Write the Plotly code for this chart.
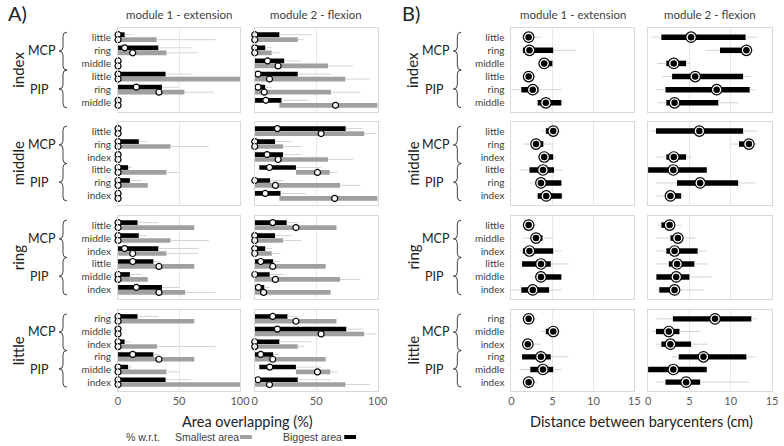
import plotly.graph_objects as go

W, H = 784, 446

# ---------------- labels ----------------
fingers = ["index", "middle", "ring", "little"]
lab_index = ["little", "ring", "middle", "little", "ring", "middle"]
lab_middle = ["little", "ring", "index", "little", "ring", "index"]
lab_ring = ["little", "middle", "index", "little", "middle", "index"]
lab_little = ["ring", "middle", "index", "ring", "middle", "index"]
row_labels = [lab_index, lab_middle, lab_ring, lab_little]
joints = ["MCP", "PIP"]
titles = ["module 1 - extension", "module 2 - flexion"]

# ---------------- Panel A: area overlapping (%) ----------------
# order: index(MCP l,r,m, PIP l,r,m), middle(...), ring(...), little(...)
# module 1 - biggest area (black)
a1_big_lo = [0, 0, 0, 0, 0, 0,  0, 0, 0, 0, 0, 0,  0, 0, 0, 0, 0, 0,  0, 0, 0, 0, 0, 0]
a1_big_hi = [5.4, 33, 0, 39, 36, 0,  0, 17, 0, 8.3, 9.7, 0,  16, 17, 33, 29, 9.7, 36,  16, 0, 5.4, 29, 8.3, 39]
a1_big_med = [0, 5.4, 0, 0, 15, 0,  0, 0, 0, 0, 0, 0,  0, 0, 5.4, 12, 0, 15,  0, 0, 0, 12, 0, 0]
a1_big_wh = [11, 60, 0, 60, 50, 0,  0, 24, 0, 11.5, 19.6, 0,  33, 23.6, 66, 34, 19.6, 50,  33, 0, 11, 34, 11.5, 60]
# module 1 - smallest area (gray)
a1_small_lo = [0] * 24
a1_small_hi = [31.6, 39.7, 0, 100, 54.4, 0,  0, 43, 0, 39.7, 24.4, 0,  62.5, 43, 39.7, 62.5, 24.4, 55,  62.5, 0, 32, 62.5, 39.7, 100]
a1_small_med = [0, 12, 0, 0, 33.5, 0,  0, 0, 0, 0, 0, 0,  0, 0, 12, 33.5, 0, 33.5,  0, 0, 0, 33.5, 0, 0]
a1_small_wh = [80, 66, 0, 100, 78.5, 0,  0, 74.5, 0, 50, 24.4, 0,  62.5, 74.5, 66, 62.5, 24.4, 80,  62.5, 0, 80, 62.5, 50, 100]
# module 2 - biggest area (black)
a2_big_lo = [0, 0, 0, 0, 0, 0,  0, 0, 0, 3.7, 0, 0,  0, 0, 0, 0, 0, 0,  0, 0, 0, 0, 3.7, 0]
a2_big_hi = [20, 8.5, 24, 35, 8.5, 21.8,  74, 16.5, 23, 33.5, 12.5, 21,  26, 16.5, 8.5, 15, 12.2, 7.7,  26.6, 74.5, 20, 15, 33.5, 35]
a2_big_med = [0, 0, 10.4, 2.7, 2.7, 9,  18.4, 0, 10, 12, 0, 8.5,  14.6, 0, 0, 4.8, 0, 3,  14.6, 18.4, 0, 4.8, 12.2, 2.7]
a2_big_wh = [46, 14, 38, 62, 14, 43.6,  88, 30, 38, 54, 23.7, 42,  35.6, 30, 14, 20, 23.7, 12,  35.6, 88, 46, 20, 54, 62]
# module 2 - smallest area (gray)
a2_small_lo = [0, 0, 0, 0, 0, 20,  0, 0, 0, 33.5, 0, 20,  0, 0, 0, 0, 0, 0,  0, 0, 0, 0, 33.5, 0]
a2_small_hi = [35, 13.8, 59.6, 73.7, 62, 100,  89, 23, 59.6, 61, 69.4, 100,  66.5, 23, 13.8, 57.7, 69.4, 61.7,  66.5, 89, 35, 57.7, 61.4, 73.7]
a2_small_med = [0, 0, 19, 12, 7.7, 65.7,  54, 0, 19, 51, 16.8, 65,  33.5, 0, 0, 14.6, 16.8, 7.2,  33.5, 54, 0, 14.6, 51, 12]
a2_small_wh = [40, 21, 80, 94, 86, 100,  99, 38, 80, 67.5, 86, 100,  66.5, 38, 21, 57.7, 86, 61.7,  66.5, 99, 40, 57.7, 67.5, 94]

# ---------------- Panel B: distance between barycenters (cm) ----------------
b1_wlo = [1.4, 1.2, 3.2, 1.4, 0.0, 3.0,  3.6, 1.4, 3.2, 1.0, 2.2, 3.0,  1.6, 1.4, 1.0, 1.1, 2.3, 0.0,  1.6, 3.6, 1.3, 1.1, 1.0, 1.5]
b1_lo = [1.6, 1.4, 3.4, 1.6, 1.2, 3.2,  4.2, 2.4, 3.4, 2.2, 3.0, 3.2,  1.8, 2.5, 1.4, 1.3, 3.0, 1.2,  1.8, 4.2, 1.4, 1.3, 2.3, 1.6]
b1_med = [2.1, 2.2, 4.0, 2.1, 2.6, 4.2,  5.1, 3.0, 4.0, 3.85, 3.6, 4.25,  2.1, 3.0, 2.2, 3.6, 3.6, 2.6,  2.1, 5.1, 2.0, 3.6, 3.85, 2.1]
b1_hi = [2.5, 5.1, 5.0, 2.5, 3.3, 6.1,  5.6, 3.9, 5.1, 5.2, 6.1, 6.15,  2.3, 3.8, 5.1, 4.8, 6.1, 4.6,  2.4, 5.6, 2.5, 4.8, 5.1, 2.5]
b1_whi = [3.6, 7.9, 5.2, 3.0, 6.1, 6.4,  6.0, 5.2, 5.4, 6.2, 6.2, 6.4,  3.1, 5.1, 6.1, 7.0, 6.1, 6.1,  3.1, 6.0, 3.6, 7.0, 6.1, 3.2]

b2_wlo = [0.4, 6.9, 1.1, 1.7, 1.0, 1.1,  0.2, 10.0, 1.0, 0.0, 1.0, 1.0,  1.1, 1.0, 1.0, 1.0, 1.0, 1.1,  1.0, 0.4, 1.0, 2.9, 0.0, 1.0]
b2_lo = [1.6, 8.7, 2.2, 2.9, 2.1, 2.2,  0.95, 11.0, 2.2, 0.0, 3.5, 2.2,  1.6, 2.7, 2.2, 2.5, 1.0, 1.35,  3.0, 0.95, 1.6, 3.7, 0.0, 2.1]
b2_med = [5.2, 11.9, 3.1, 5.7, 8.3, 3.2,  6.2, 12.2, 3.1, 3.05, 6.3, 2.7,  2.6, 3.6, 3.2, 3.5, 3.4, 3.2,  8.1, 2.5, 2.7, 6.7, 3.05, 4.6]
b2_hi = [11.8, 12.3, 4.6, 11.5, 12.3, 8.5,  11.5, 12.8, 4.6, 7.1, 10.9, 4.0,  3.2, 4.0, 6.0, 5.6, 5.0, 3.7,  12.5, 3.8, 5.2, 11.9, 7.1, 6.3]
b2_whi = [13.2, 12.8, 5.1, 12.4, 13.0, 11.0,  13.2, 13.2, 5.3, 7.1, 13.0, 4.3,  4.0, 5.7, 7.1, 7.2, 7.7, 6.7,  13.2, 6.3, 7.2, 13.0, 7.1, 12.2]

# ---------------- layout geometry ----------------
FONT = "Lato, 'Open Sans', sans-serif"
C_BIG = "#000000"
C_SMALL = "#a0a0a0"
C_WHISK = "#d4d4d4"
C_FRAME = "#d9d9d9"
C_GRID = "#e8e8e8"
C_TEXT = "#404040"

col_px = [(117, 241), (256, 381), (517, 642), (656, 782)]
row_px = [(28, 112), (122, 205), (216, 299), (310, 391)]
YR = [5.7, -0.7]


def px(x):
    return x / W


def py(y):
    return 1 - y / H


def cy(g, i):
    y0, y1 = row_px[g]
    return y0 + (i - YR[1]) * (y1 - y0) / (YR[0] - YR[1])


fig = go.Figure()
layout = dict(width=W, height=H, margin=dict(l=0, r=0, t=0, b=0),
              paper_bgcolor="white", plot_bgcolor="white", showlegend=False,
              barmode="overlay", font=dict(family=FONT, color=C_TEXT))

panelA = [
    [(a1_big_lo, a1_big_hi, a1_big_med, a1_big_wh, C_BIG, -0.19),
     (a1_small_lo, a1_small_hi, a1_small_med, a1_small_wh, C_SMALL, 0.19)],
    [(a2_big_lo, a2_big_hi, a2_big_med, a2_big_wh, C_BIG, -0.19),
     (a2_small_lo, a2_small_hi, a2_small_med, a2_small_wh, C_SMALL, 0.19)],
]
panelB = [(b1_wlo, b1_lo, b1_med, b1_hi, b1_whi), (b2_wlo, b2_lo, b2_med, b2_hi, b2_whi)]

for c in range(4):
    for g in range(4):
        n = c * 4 + g + 1
        xa, ya = f"x{n}", f"y{n}"
        sl = slice(g * 6, g * 6 + 6)
        rows = list(range(6))
        if c < 2:
            for lo, hi, med, wh, col, off in panelA[c]:
                lo_, hi_, med_, wh_ = lo[sl], hi[sl], med[sl], wh[sl]
                yy = [i + off for i in rows]
                wx, wy = [], []
                for i in rows:
                    if wh_[i] > hi_[i]:
                        wx += [hi_[i], wh_[i], None]
                        wy += [yy[i], yy[i], None]
                fig.add_trace(go.Scatter(x=wx, y=wy, mode="lines", line=dict(color=C_WHISK, width=1),
                                         xaxis=xa, yaxis=ya, hoverinfo="skip"))
                fig.add_trace(go.Bar(orientation="h", y=yy, x=[h - l for h, l in zip(hi_, lo_)], base=lo_,
                                     width=0.36, marker=dict(color=col, line=dict(width=0)),
                                     xaxis=xa, yaxis=ya))
            for lo, hi, med, wh, col, off in panelA[c]:
                fig.add_trace(go.Scatter(x=med[sl], y=[i + off for i in rows], mode="markers",
                                         marker=dict(size=6, color="white", line=dict(color="black", width=1.2)),
                                         cliponaxis=False, xaxis=xa, yaxis=ya))
        else:
            wlo, lo, med, hi, whi = [a[sl] for a in panelB[c - 2]]
            wx, wy = [], []
            for i in rows:
                if lo[i] > wlo[i]:
                    wx += [wlo[i], lo[i], None]
                    wy += [i, i, None]
                if whi[i] > hi[i]:
                    wx += [hi[i], whi[i], None]
                    wy += [i, i, None]
            fig.add_trace(go.Scatter(x=wx, y=wy, mode="lines", line=dict(color=C_WHISK, width=1),
                                     xaxis=xa, yaxis=ya, hoverinfo="skip"))
            fig.add_trace(go.Bar(orientation="h", y=rows, x=[h - l for h, l in zip(hi, lo)], base=lo,
                                 width=0.42, marker=dict(color=C_BIG, line=dict(width=0)),
                                 xaxis=xa, yaxis=ya))
            fig.add_trace(go.Scatter(x=med, y=rows, mode="markers",
                                     marker=dict(size=10.5, color="white", line=dict(color="black", width=1.2)),
                                     cliponaxis=False, xaxis=xa, yaxis=ya))
            fig.add_trace(go.Scatter(x=med, y=rows, mode="markers",
                                     marker=dict(size=6.5, color="black"),
                                     cliponaxis=False, xaxis=xa, yaxis=ya))

        x0, x1 = col_px[c]
        y0, y1 = row_px[g]
        xmax = 100 if c < 2 else 15
        tv = [0, 50, 100] if c < 2 else [0, 5, 10, 15]
        layout[f"xaxis{n}"] = dict(domain=[px(x0), px(x1)], anchor=ya, range=[0, xmax], tickvals=tv,
                                   showticklabels=(g == 3), showgrid=True, gridcolor=C_GRID, gridwidth=1,
                                   zeroline=False, showline=True, mirror=True, linecolor=C_FRAME,
                                   linewidth=1, ticks="", tickfont=dict(size=11, color="#595959"),
                                   fixedrange=True)
        layout[f"yaxis{n}"] = dict(domain=[py(y1), py(y0)], anchor=xa, range=YR, tickvals=list(range(6)),
                                   ticktext=row_labels[g], showticklabels=(c in (0, 2)), showgrid=False,
                                   zeroline=False, showline=True, mirror=True, linecolor=C_FRAME,
                                   linewidth=1, ticks="", ticklabelstandoff=4,
                                   tickfont=dict(size=10, color=C_TEXT), fixedrange=True)

ann = []


def add_text(t, x, y, size, xanchor="center", angle=0, color=C_TEXT, family=FONT):
    ann.append(dict(text=t, x=px(x), y=py(y), xref="paper", yref="paper", showarrow=False,
                    xanchor=xanchor, yanchor="middle", textangle=angle,
                    font=dict(size=size, color=color, family=family)))


shapes = []


def brace(x, ya, yb, w=4, r=4):
    xm = (ya + yb) / 2
    pts = (f"M {px(x + w)},{py(ya)} Q {px(x)},{py(ya)} {px(x)},{py(ya + r)} "
           f"L {px(x)},{py(xm - r)} Q {px(x)},{py(xm)} {px(x - w)},{py(xm)} "
           f"Q {px(x)},{py(xm)} {px(x)},{py(xm + r)} "
           f"L {px(x)},{py(yb - r)} Q {px(x)},{py(yb)} {px(x + w)},{py(yb)}")
    shapes.append(dict(type="path", path=pts, xref="paper", yref="paper",
                       line=dict(color=C_TEXT, width=1)))


add_text("A)", 3, 13, 20, "left", color="#222")
add_text("B)", 404, 13, 20, "left", color="#222")
for c in range(4):
    x0, x1 = col_px[c]
    add_text(titles[c % 2], (x0 + x1) / 2, 15, 11.5)

for base_x, bx in ((15, 61), (416, 462)):
    for g in range(4):
        y0, y1 = row_px[g]
        add_text(fingers[g], base_x, (y0 + y1) / 2, 15, angle=-90, color="#222")
        add_text(joints[0], base_x + 41, cy(g, 1), 12.5, "right", color="#222")
        add_text(joints[1], base_x + 34, cy(g, 4), 12.5, "right", color="#222")
        mid = (cy(g, 2) + cy(g, 3)) / 2
        brace(bx, cy(g, 0) - 5, mid)
        brace(bx, mid, cy(g, 5) + 5)

add_text("Area overlapping (%)", (117 + 381) / 2, 421, 14.5, color="#222")
add_text("Distance between barycenters (cm)", (517 + 782) / 2, 421, 14.5, color="#222")

LEG = "'Liberation Sans', Arial, sans-serif"
add_text("% w.r.t.", 123, 437, 10.5, "left", family=LEG)
add_text("Smallest area", 173, 437, 10.5, "left", family=LEG)
add_text("Biggest area", 283, 437, 10.5, "left", family=LEG)
shapes.append(dict(type="rect", xref="paper", yref="paper", x0=px(241), x1=px(253), y0=py(439), y1=py(435),
                   fillcolor=C_SMALL, line=dict(width=0)))
shapes.append(dict(type="rect", xref="paper", yref="paper", x0=px(347), x1=px(359), y0=py(439), y1=py(435),
                   fillcolor=C_BIG, line=dict(width=0)))

layout["annotations"] = ann
layout["shapes"] = shapes
fig.update_layout(**layout)

fig.write_html("out.html", config={"displayModeBar": False},
               post_script="document.body.style.margin='0';")
